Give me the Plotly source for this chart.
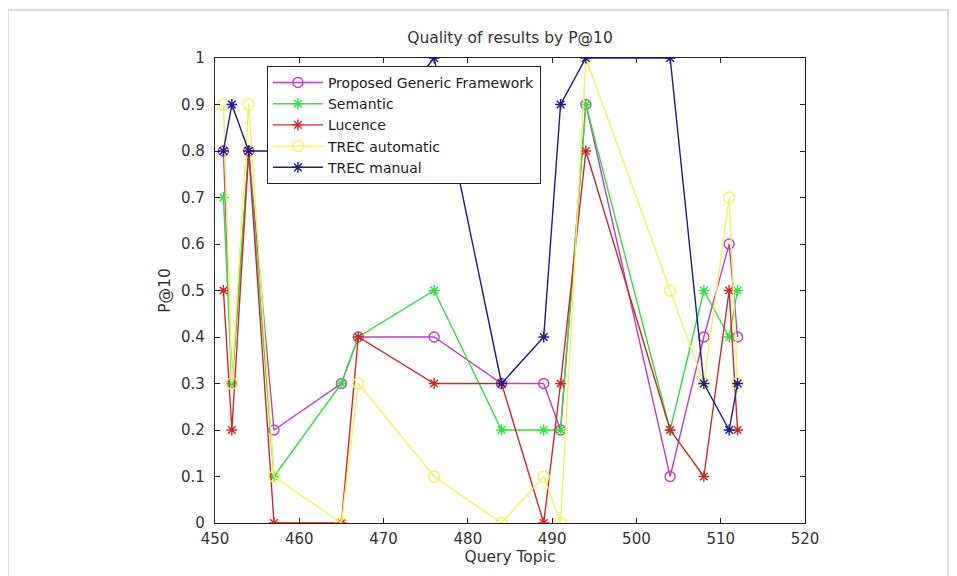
import plotly.graph_objects as go

topics = [451, 452, 454, 457, 465, 467, 476, 484, 489, 491, 494, 504, 508, 511, 512]
proposed = [0.8, 0.3, 0.8, 0.2, 0.3, 0.4, 0.4, 0.3, 0.3, 0.2, 0.9, 0.1, 0.4, 0.6, 0.4]
semantic = [0.7, 0.3, 0.8, 0.1, 0.3, 0.4, 0.5, 0.2, 0.2, 0.2, 0.9, 0.2, 0.5, 0.4, 0.5]
lucence = [0.5, 0.2, 0.8, 0.0, 0.0, 0.4, 0.3, 0.3, 0.0, 0.3, 0.8, 0.2, 0.1, 0.5, 0.2]
trec_auto = [0.9, 0.3, 0.9, 0.1, 0.0, 0.3, 0.1, 0.0, 0.1, 0.0, 1.0, 0.5, 0.3, 0.7, 0.3]
trec_manual = [0.8, 0.9, 0.8, 0.8, 0.8, 0.8, 1.0, 0.3, 0.4, 0.9, 1.0, 1.0, 0.3, 0.2, 0.3]

x_ticks = [450, 460, 470, 480, 490, 500, 510, 520]
y_ticks = [0, 0.1, 0.2, 0.3, 0.4, 0.5, 0.6, 0.7, 0.8, 0.9, 1]
y_labels = ["0", "0.1", "0.2", "0.3", "0.4", "0.5", "0.6", "0.7", "0.8", "0.9", "1"]

series = [
    ("Proposed Generic Framework", proposed, "#c040c0", "circle-open", 10),
    ("Semantic", semantic, "#33dd44", "asterisk-open", 9),
    ("Lucence", lucence, "#cc2a2a", "asterisk-open", 9),
    ("TREC automatic", trec_auto, "#f2f25a", "circle-open", 11),
    ("TREC manual", trec_manual, "#1c1c8c", "asterisk-open", 9),
]

fig = go.Figure()
for name, vals, color, sym, size in series:
    fig.add_trace(go.Scatter(
        x=topics, y=vals, name=name, mode="lines+markers",
        line=dict(color=color, width=1.4),
        marker=dict(symbol=sym, size=size, color=color, line=dict(color=color, width=1.4)),
    ))

font_fam = "DejaVu Sans, Verdana, sans-serif"
axis_common = dict(
    showgrid=False, zeroline=False, showline=True, linecolor="#222", linewidth=1.2,
    mirror="ticks", ticks="inside", ticklen=5, tickcolor="#222",
    tickfont=dict(family=font_fam, size=15, color="#333"),
)

# page body has an 8px offset, so margins are reduced by 8 on left/top
fig.update_layout(
    width=957, height=576,
    paper_bgcolor="white", plot_bgcolor="white",
    margin=dict(l=207, r=160, t=50, b=61),
    title=dict(text="Quality of results by P@10", x=(207 + 590 / 2) / 957, xanchor="center",
               y=1 - 30 / 576, yanchor="middle",
               font=dict(family=font_fam, size=15.5, color="#333")),
    xaxis=dict(range=[450, 520], tickvals=x_ticks, ticklabelstandoff=2,
               title=dict(text="Query Topic", standoff=4, font=dict(family=font_fam, size=15.5, color="#333")),
               **axis_common),
    yaxis=dict(range=[0, 1], tickvals=y_ticks, ticktext=y_labels, ticklabelstandoff=6,
               title=dict(text="P@10", standoff=6, font=dict(family=font_fam, size=15.5, color="#333")),
               **axis_common),
    legend=dict(x=0.088, y=0.983, xanchor="left", yanchor="top",
                bgcolor="white", bordercolor="#222", borderwidth=1,
                font=dict(family=font_fam, size=14, color="#222"),
                tracegroupgap=0, itemwidth=50),
    showlegend=True,
)

fig.add_shape(type="rect", xref="paper", yref="paper",
              x0=(8 - 215) / 590, x1=(948 - 215) / 590,
              y0=(523 - 600) / 465, y1=(523 - 10) / 465,
              line=dict(color="#bbbbbb", width=1), layer="below")

fig.write_html("out.html")
